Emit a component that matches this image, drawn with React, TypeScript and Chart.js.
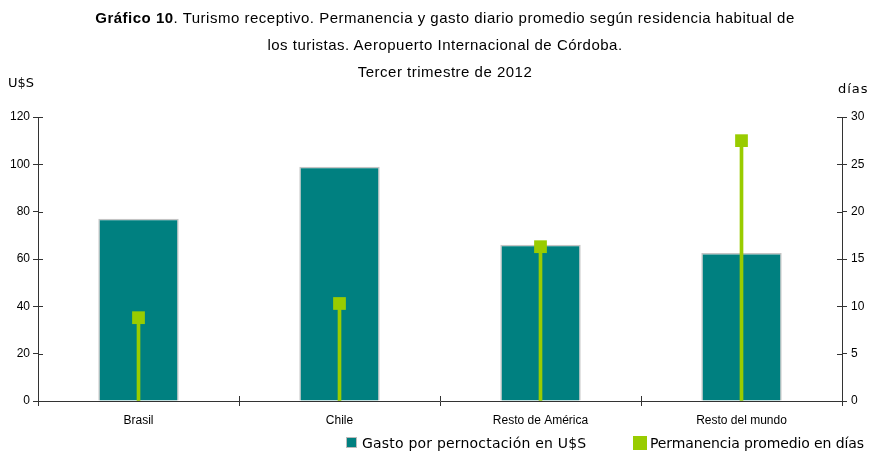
import React, { useEffect, useRef } from "react";
import { Chart, registerables } from "chart.js";

Chart.register(...registerables);

const categories = ["Brasil", "Chile", "Resto de América", "Resto del mundo"];
const gastoUSD = [77, 99, 66, 62.5];
const permanenciaDias = [8.8, 10.3, 16.3, 27.5];
const leftTicks = [0, 20, 40, 60, 80, 100, 120];
const rightTicks = [0, 5, 10, 15, 20, 25, 30];

const TEAL = "#008080";
const GREEN = "#99cc00";
const AXIS = "#333333";

const crossTicks = {
  id: "crossTicks",
  afterDraw(chart: any) {
    const ctx = chart.ctx;
    const y = chart.scales.y;
    const y2 = chart.scales.y2;
    const x = chart.scales.x;
    ctx.save();
    ctx.strokeStyle = AXIS;
    ctx.lineWidth = 1;
    ctx.beginPath();
    y.ticks.forEach((_t: any, i: number) => {
      const py = Math.round(y.getPixelForTick(i)) + 0.5;
      ctx.moveTo(y.right, py);
      ctx.lineTo(y.right + 5, py);
    });
    y2.ticks.forEach((_t: any, i: number) => {
      const py = Math.round(y2.getPixelForTick(i)) + 0.5;
      ctx.moveTo(y2.left - 5, py);
      ctx.lineTo(y2.left, py);
    });
    for (let i = 1; i < categories.length; i++) {
      const px = Math.round((x.getPixelForValue(i - 1) + x.getPixelForValue(i)) / 2) + 0.5;
      ctx.moveTo(px, x.top - 5);
      ctx.lineTo(px, x.top);
    }
    ctx.stroke();
    ctx.restore();
  },
};

export default function App() {
  const ref = useRef<HTMLCanvasElement | null>(null);
  useEffect(() => {
    if (!ref.current) return;
    const chart = new Chart(ref.current, {
      type: "bar",
      data: {
        labels: categories,
        datasets: [
          {
            type: "line",
            label: "Permanencia promedio en días",
            data: permanenciaDias,
            yAxisID: "y2",
            showLine: false,
            pointStyle: "rect",
            pointRadius: 9,
            pointHoverRadius: 9,
            pointBackgroundColor: GREEN,
            pointBorderWidth: 0,
            order: 1,
          } as any,
          {
            type: "bar",
            label: "stem",
            data: permanenciaDias,
            yAxisID: "y2",
            backgroundColor: GREEN,
            barThickness: 3,
            grouped: false,
            order: 2,
          } as any,
          {
            type: "bar",
            label: "Gasto por pernoctación en U$S",
            data: gastoUSD,
            yAxisID: "y",
            backgroundColor: TEAL,
            borderColor: "#c4c4c4",
            borderWidth: 1.5,
            categoryPercentage: 1,
            barPercentage: 0.4,
            grouped: false,
            order: 3,
          } as any,
        ],
      },
      options: {
        animation: false,
        responsive: false,
        layout: { padding: { top: 117, left: 0, right: 0, bottom: 0 } },
        plugins: {
          legend: { display: false },
          title: { display: false },
          tooltip: { enabled: false },
        },
        scales: {
          x: {
            offset: true,
            grid: { display: true, drawOnChartArea: false, tickLength: 5, color: AXIS, offset: true },
            border: { color: AXIS, width: 1 },
            ticks: { color: "#000", font: { family: "Liberation Sans", size: 12 }, padding: 7 },
            afterFit: (s: any) => { s.height = 52; },
          },
          y: {
            position: "left",
            min: 0,
            max: 120,
            afterBuildTicks: (s: any) => { s.ticks = leftTicks.map((v) => ({ value: v })); },
            grid: { drawOnChartArea: false, tickLength: 5, color: AXIS },
            border: { color: AXIS, width: 1 },
            ticks: { color: "#000", font: { family: "Liberation Sans", size: 12 }, padding: 3 },
            afterFit: (s: any) => { s.width = 38; },
          },
          y2: {
            position: "right",
            min: 0,
            max: 30,
            afterBuildTicks: (s: any) => { s.ticks = rightTicks.map((v) => ({ value: v })); },
            grid: { drawOnChartArea: false, tickLength: 5, color: AXIS },
            border: { color: AXIS, width: 1 },
            ticks: { color: "#000", font: { family: "Liberation Sans", size: 12 }, padding: 4 },
            afterFit: (s: any) => { s.width = 28; },
          },
        },
      } as any,
      plugins: [crossTicks],
    });
    return () => chart.destroy();
  }, []);

  const titleStyle: React.CSSProperties = {
    position: "absolute",
    left: 0,
    width: 890,
    textAlign: "center",
    fontFamily: "'Liberation Sans', sans-serif",
    fontSize: 15,
    letterSpacing: 0.5,
    color: "#000",
    whiteSpace: "nowrap",
    lineHeight: "18px",
  };
  const legendText: React.CSSProperties = {
    position: "absolute",
    fontFamily: "'DejaVu Sans', sans-serif",
    fontSize: 14,
    color: "#000",
    whiteSpace: "nowrap",
    lineHeight: "16px",
  };

  return (
    <div style={{ position: "absolute", left: 0, top: 0, width: 870, height: 453, background: "#fff", overflow: "hidden" }}>
      <canvas ref={ref} width={870} height={453} style={{ position: "absolute", left: 0, top: 0 }} />
      <div style={{ ...titleStyle, top: 9 }}>
        <b>Gráfico 10</b>. Turismo receptivo. Permanencia y gasto diario promedio según residencia habitual de
      </div>
      <div style={{ ...titleStyle, top: 36 }}>los turistas. Aeropuerto Internacional de Córdoba.</div>
      <div style={{ ...titleStyle, top: 63 }}>Tercer trimestre de 2012</div>
      <div style={{ ...legendText, fontSize: 13, left: 8, top: 75 }}>U$S</div>
      <div style={{ ...legendText, fontSize: 13, left: 838, top: 81, letterSpacing: 1 }}>días</div>
      <div style={{ position: "absolute", left: 346, top: 437, width: 9, height: 9, background: TEAL, border: "1px solid #bbb" }} />
      <div style={{ ...legendText, left: 362, top: 435, letterSpacing: 0.2 }}>Gasto por pernoctación en U$S</div>
      <div style={{ position: "absolute", left: 633, top: 436, width: 14, height: 14, background: GREEN }} />
      <div style={{ ...legendText, left: 650, top: 435, letterSpacing: -0.1 }}>Permanencia promedio en días</div>
    </div>
  );
}
